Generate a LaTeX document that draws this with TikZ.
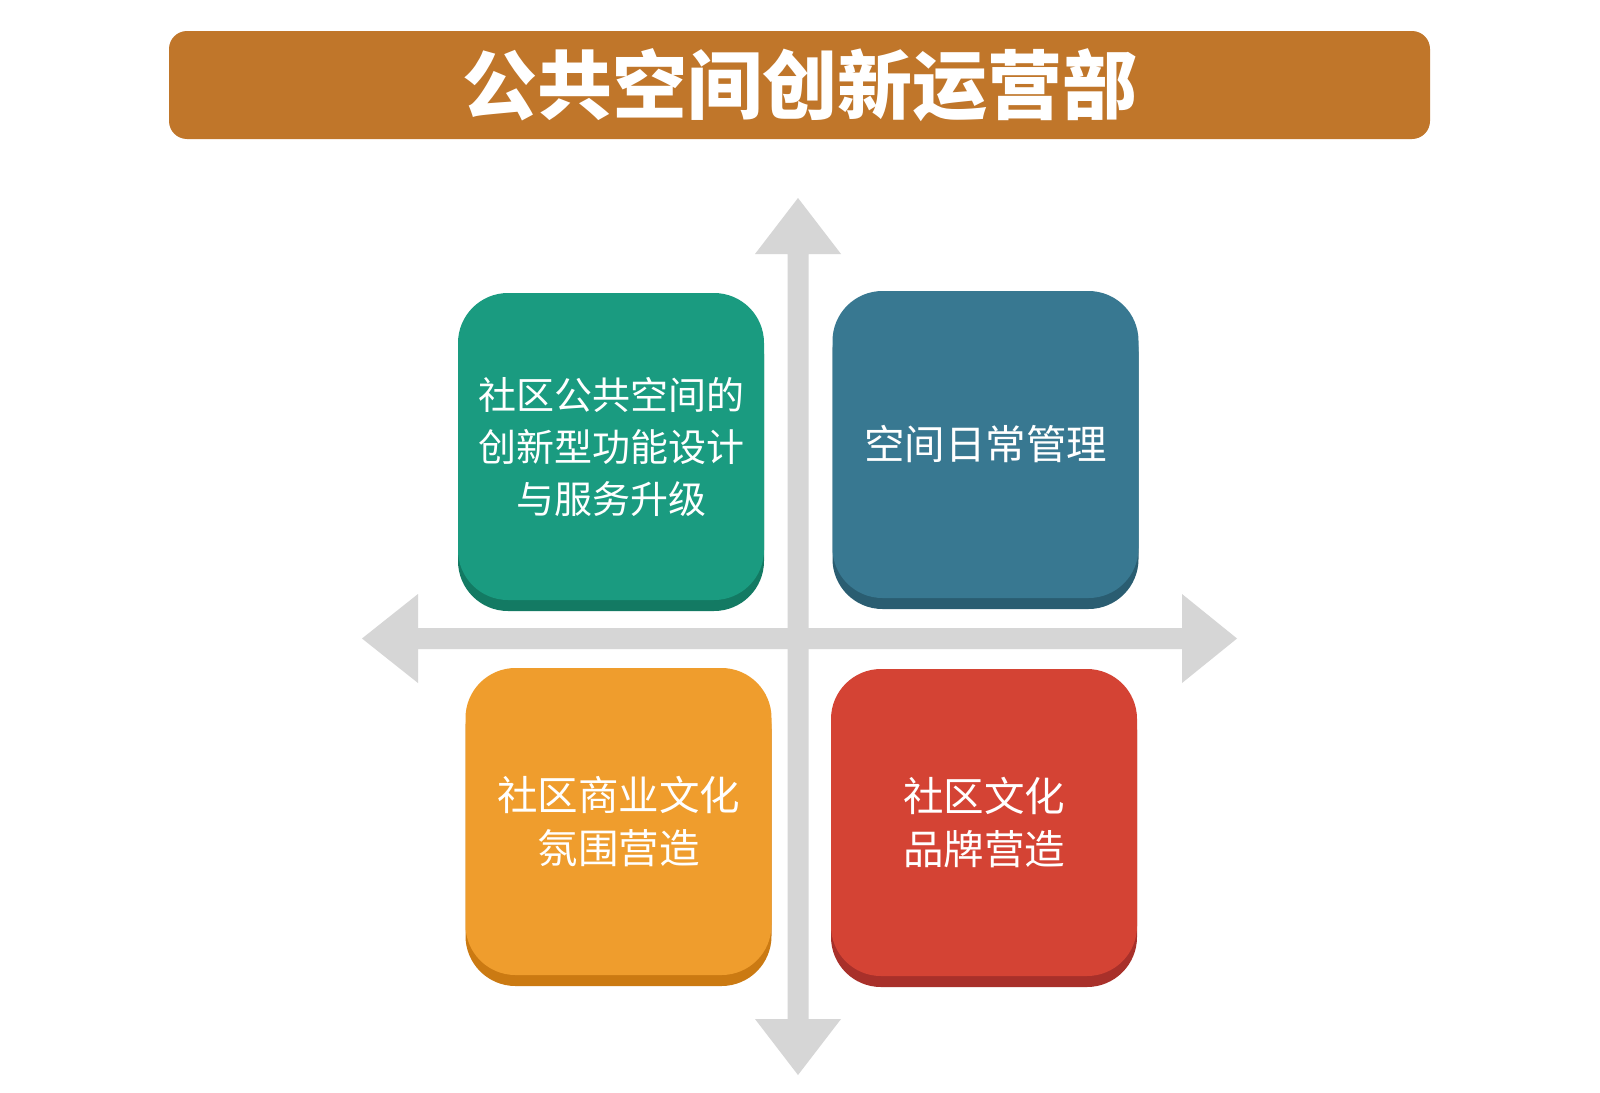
\documentclass[tikz,border=0pt]{standalone}
\usepackage{fontspec}
\setmainfont{Noto Sans CJK SC}
\usetikzlibrary{shadows}
\definecolor{titlebg}{HTML}{C0762A}
\definecolor{arrowgray}{HTML}{D6D6D6}
\definecolor{tealface}{HTML}{1A9B80}
\definecolor{tealdark}{HTML}{137A63}
\definecolor{blueface}{HTML}{387891}
\definecolor{bluedark}{HTML}{2A5D71}
\definecolor{orangeface}{HTML}{EF9D2D}
\definecolor{orangedark}{HTML}{CB7A12}
\definecolor{redface}{HTML}{D44334}
\definecolor{reddark}{HTML}{A8302A}
\tikzset{
  tile/.style 2 args={rectangle, rounded corners=50pt, fill=#1,
    minimum width=306pt, minimum height=307pt, inner sep=0pt,
    align=center, text=white, font=\fontsize{40.5}{53}\selectfont,
    general shadow={fill=#2, shadow xshift=0pt, shadow yshift=-11pt}},
  smalltext/.style={font=\fontsize{38}{52}\selectfont},
  titlebar/.style={rectangle, rounded corners=18pt, fill=titlebg,
    minimum width=1261pt, minimum height=108pt, inner sep=0pt,
    text=white, font=\fontsize{75}{80}\selectfont\bfseries}
}
\begin{document}
\begin{tikzpicture}[x=1pt,y=-1pt]
\useasboundingbox (0,0) rectangle (1600,1092);
\fill[white] (0,0) rectangle (1600,1092);
% title
\node[titlebar] (title) at (799.5,85) {公共空间创新运营部};
% axes
\fill[arrowgray] (787.5,254) -- (755,254) -- (798,198) -- (841,254) -- (808.5,254)
  -- (808.5,1019) -- (841,1019) -- (798,1075) -- (755,1019) -- (787.5,1019) -- cycle;
\fill[arrowgray] (418,628) -- (418,594) -- (362,638.5) -- (418,683) -- (418,649)
  -- (1182,649) -- (1182,683) -- (1237,638.5) -- (1182,594) -- (1182,628) -- cycle;
% tiles
\node[tile={tealface}{tealdark}, smalltext] (tl) at (611,446.5) {社区公共空间的\\创新型功能设计\\与服务升级};
\node[tile={blueface}{bluedark}] (tr) at (985.5,444.5) {空间日常管理};
\node[tile={orangeface}{orangedark}] (bl) at (618.5,821.5) {社区商业文化\\氛围营造};
\node[tile={redface}{reddark}] (br) at (984,822.5) {社区文化\\品牌营造};
\end{tikzpicture}
\end{document}
